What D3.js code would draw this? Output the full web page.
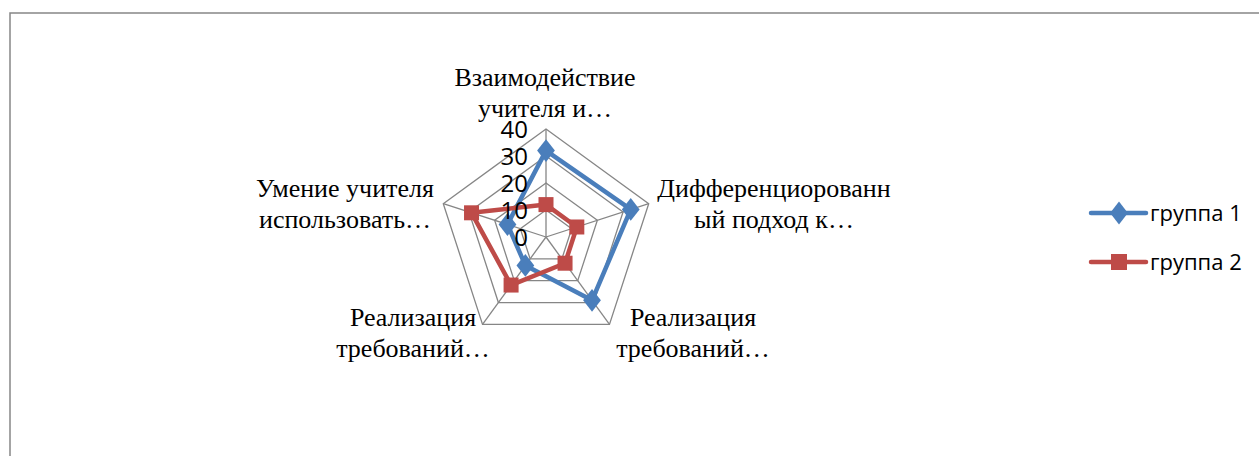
<!DOCTYPE html>
<html><head><meta charset="utf-8">
<script src="https://cdn.jsdelivr.net/npm/d3@7/dist/d3.min.js"></script>
<style>body{margin:0;background:#fff;} svg{display:block;}
.cat{font-family:"Liberation Serif","Times New Roman","DejaVu Serif",serif;}
.sans{font-family:"Open Sans","Liberation Sans",sans-serif;}
</style>
</head><body>
<script>
const categories = [
  ["Взаимодействие", "учителя и…"],
  ["Дифференциорованн", "ый подход к…"],
  ["Реализация", "требований…"],
  ["Реализация", "требований…"],
  ["Умение учителя", "использовать…"]
];
const seriesNames = ["группа 1", "группа 2"];
const group1 = [32, 33, 29, 13, 15];
const group2 = [12, 12, 12, 22, 29];
const tickValues = [0, 10, 20, 30, 40];

const W = 1259, H = 456;
const cx = 546, cy = 237, R = 108;
const colors = ["#4a7ebb", "#be4b48"];

const svg = d3.select("body").append("svg").attr("width", W).attr("height", H);
svg.append("rect").attr("x", 10).attr("y", 13).attr("width", 1260).attr("height", 460)
  .attr("fill", "none").attr("stroke", "#868686").attr("stroke-width", 1.5);

const r = d3.scaleLinear().domain([0, 40]).range([0, R]);
const ang = d3.scaleLinear().domain([0, categories.length]).range([0, 2 * Math.PI]);
const pt = (i, v) => [cx + r(v) * Math.sin(ang(i)), cy - r(v) * Math.cos(ang(i))];

const g = svg.append("g");
tickValues.filter(t => t > 0).forEach(t => {
  g.append("polygon")
    .attr("points", categories.map((c, i) => pt(i, t).join(",")).join(" "))
    .attr("fill", "none").attr("stroke", "#868686").attr("stroke-width", 1.3);
});
categories.forEach((c, i) => {
  const p = pt(i, 40);
  g.append("line").attr("x1", cx).attr("y1", cy).attr("x2", p[0]).attr("y2", p[1])
    .attr("stroke", "#868686").attr("stroke-width", 1.3);
});

const line = d3.line().curve(d3.curveLinearClosed);
[group1, group2].forEach((data, s) => {
  g.append("path").attr("d", line(data.map((v, i) => pt(i, v))))
    .attr("fill", "none").attr("stroke", colors[s]).attr("stroke-width", 4.5)
    .attr("stroke-linejoin", "round");
});
[group1, group2].forEach((data, s) => {
  data.forEach((v, i) => {
    const p = pt(i, v);
    if (s === 0) {
      g.append("path").attr("d", d3.symbol(d3.symbolDiamond, 150)())
        .attr("transform", `translate(${p[0]},${p[1]}) scale(1.35,1)`).attr("fill", colors[s]);
    } else {
      g.append("rect").attr("x", p[0] - 7.5).attr("y", p[1] - 7.5).attr("width", 15).attr("height", 15)
        .attr("fill", colors[s]);
    }
  });
});

// tick labels
tickValues.forEach(t => {
  svg.append("text").attr("class", "sans").attr("x", cx - 18).attr("y", cy - r(t) + 9)
    .attr("text-anchor", "end").attr("font-size", 24)
    .attr("fill", "#000").text(t);
});

// category labels
const labelPos = [[545, 86], [774, 197], [693, 326], [413, 326], [345, 197]];
categories.forEach((c, i) => {
  const t = svg.append("text").attr("class", "cat").attr("text-anchor", "middle")
    .attr("font-size", 26).attr("fill", "#000");
  c.forEach((ln, k) => {
    t.append("tspan").attr("x", labelPos[i][0]).attr("y", labelPos[i][1] + k * 31).text(ln);
  });
});

// legend
seriesNames.forEach((n, s) => {
  const y = 213 + s * 49;
  const lg = svg.append("g");
  lg.append("line").attr("x1", 1091).attr("x2", 1146).attr("y1", y).attr("y2", y)
    .attr("stroke", colors[s]).attr("stroke-width", 4.5).attr("stroke-linecap", "round");
  if (s === 0) {
    lg.append("path").attr("d", d3.symbol(d3.symbolDiamond, 150)())
      .attr("transform", `translate(1119,${y}) scale(1.35,1)`).attr("fill", colors[s]);
  } else {
    lg.append("rect").attr("x", 1111).attr("y", y - 8).attr("width", 16).attr("height", 16).attr("fill", colors[s]);
  }
  lg.append("text").attr("class", "sans").attr("x", 1150).attr("y", y + 8)
    .attr("font-size", 22).attr("fill", "#000").text(n);
});
</script>
</body></html>
